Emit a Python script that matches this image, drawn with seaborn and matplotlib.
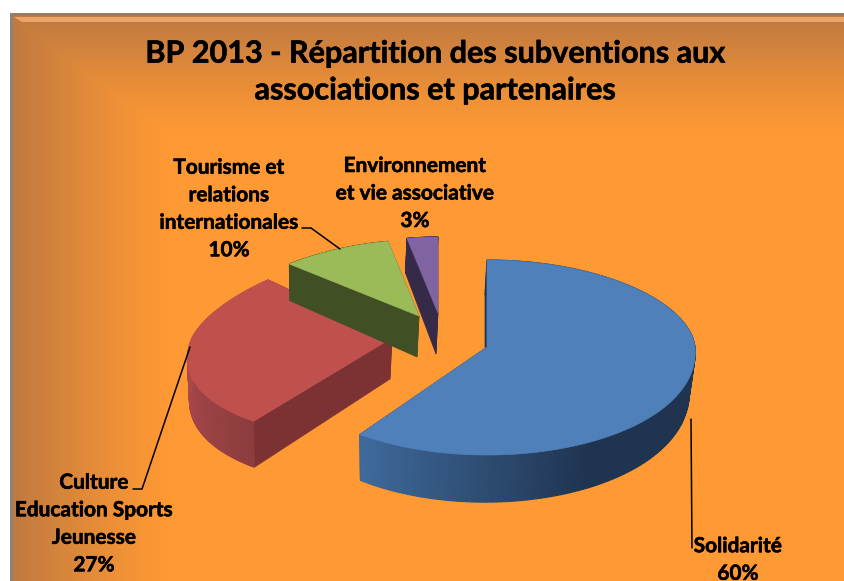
import numpy as np
import matplotlib
matplotlib.use('Agg')
import matplotlib.pyplot as plt
import matplotlib.patheffects as pe
import seaborn as sns

labels = ['Solidarité', 'Culture\nEducation Sports\nJeunesse',
          'Tourisme et\nrelations\ninternationales', 'Environnement\net vie associative']
shares = [60, 27, 10, 3]
title = 'BP 2013 - Répartition des subventions aux\nassociations et partenaires'

sns.set_theme(style='white')
plt.rcParams['font.family'] = ['Lato', 'DejaVu Sans']

STRIPS = 160
top_colors = sns.color_palette(['#4f80ba', '#bf504d', '#9bbb59', '#8064a2'])
side_colors = sns.color_palette(['#1f3551', '#7c3232', '#414f24', '#352a48'])
# outer wall shading, start of the slice to its end
wall_shades = [
    [(0.122, 0.204, 0.314)] * 112 + sns.blend_palette(['#1f3450', '#3f6a9c'], 48),
    sns.blend_palette(['#8d3c3e', '#a34648', '#b54c4b', '#c0504d'], STRIPS),
    sns.blend_palette(['#414f24', '#414f24'], STRIPS),
    sns.blend_palette(['#352a48', '#352a48'], STRIPS),
]

# apex in pixels, half width, half height back/front, perspective
placement = [
    dict(apex=(487, 347), a=208, back=87, front=108, k=0.05),
    dict(apex=(392, 338), a=200, back=85, front=103, k=0.22),
    dict(apex=(419, 316), a=206, back=76, front=100, k=0.2),
    dict(apex=(438, 313), a=206, back=76, front=100, k=0.2),
]
DEPTH = 41


def project(p, theta, low=False):
    x = np.sin(theta)
    y = np.cos(theta)
    px = p['apex'][0] + p['a'] * x * (1 - p['k'] * y)
    py = p['apex'][1] - np.where(y > 0, p['back'], p['front']) * y
    if low:
        px = p['apex'][0] + (px - p['apex'][0]) * 0.98 - 2
        py = py + DEPTH * (1 - 0.15 * y)
    return px, py


def draw_slice(ax, i, t0, t1):
    p = placement[i]
    th = np.linspace(t0, t1, 121)
    for t in (t0, t1):
        xs = [project(p, t)[0], p['apex'][0], p['apex'][0] - 2, project(p, t, low=True)[0]]
        ys = [project(p, t)[1], p['apex'][1], p['apex'][1] + DEPTH, project(p, t, low=True)[1]]
        ax.fill(xs, ys, color=side_colors[i], lw=0.5, zorder=3 + i)
    # curved outer wall, cut in strips for the shading
    edges = np.linspace(t0, t1, STRIPS + 1)
    for j in range(STRIPS):
        tt = np.array([edges[j], edges[j + 1]])
        xa, ya = project(p, tt)
        xb, yb = project(p, tt[::-1], low=True)
        ax.fill(np.r_[xa, xb], np.r_[ya, yb], color=wall_shades[i][j], lw=0.8, zorder=3 + i)
    xa, ya = project(p, th)
    ax.fill(np.r_[p['apex'][0], xa], np.r_[p['apex'][1], ya],
            color=top_colors[i], lw=0.5, zorder=3 + i)


fig = plt.figure(figsize=(8.45, 5.81), dpi=100, facecolor='white')
ax = fig.add_axes([0, 0, 1, 1])
ax.axis('off')

# orange background, darker towards the left and top edges
xx, yy = np.meshgrid(np.arange(10, 845), np.arange(13, 581))
fade = np.maximum(np.clip((170 - xx) / 155, 0, 1), np.clip((135 - yy) / 115, 0, 1))
base = np.array(matplotlib.colors.to_rgb('#ff9933'))
dark = np.array(matplotlib.colors.to_rgb('#c07a40'))
bg = base + (dark - base) * fade[..., None] ** 1.2
ax.imshow(bg, extent=(10, 845, 581, 13), aspect='auto', zorder=0, interpolation='bilinear')
ax.fill([14, 845, 845, 22], [17, 17, 22, 22], color='#e9a468', lw=0, zorder=1)
ax.fill([10, 845, 845, 10], [13, 13, 16, 16], color='#9c7b5c', lw=0, zorder=1)
ax.fill([10, 13, 13, 10], [13, 13, 581, 581], color='#8c8378', lw=0, zorder=1)
ax.set_xlim(0, 845)
ax.set_ylim(581, 0)

# slices run clockwise from the top, back ones are painted first
ends = np.cumsum(shares) / np.sum(shares) * 2 * np.pi
starts = np.r_[0, ends[:-1]]
for i in (2, 3, 1, 0):
    draw_slice(ax, i, starts[i], ends[i])

heavy = [pe.withStroke(linewidth=0.4, foreground='black')]
ax.text(435, 72, title, ha='center', va='center', fontsize=22, fontweight='bold',
        color='black', linespacing=1.38, zorder=10, path_effects=heavy)

label_pos = [(738, 560), (94, 524), (229, 209), (415, 193.5)]
for lab, share, (x, y) in zip(labels, shares, label_pos):
    ax.text(x, y, f'{lab}\n{share}%', ha='center', va='center', fontsize=15,
            fontweight='bold', color='black', linespacing=1.47, zorder=10, clip_on=True,
            path_effects=heavy)

# leader lines
leaders = [([691, 692], [419, 548]), ([133, 142, 190], [489, 489, 347]),
           ([302, 311, 340], [228, 228, 249])]
for xs, ys in leaders:
    ax.plot(xs, ys, color='black', lw=1.1, zorder=9, solid_joinstyle='miter')

fig.savefig('out.png', dpi=100)
plt.close(fig)
